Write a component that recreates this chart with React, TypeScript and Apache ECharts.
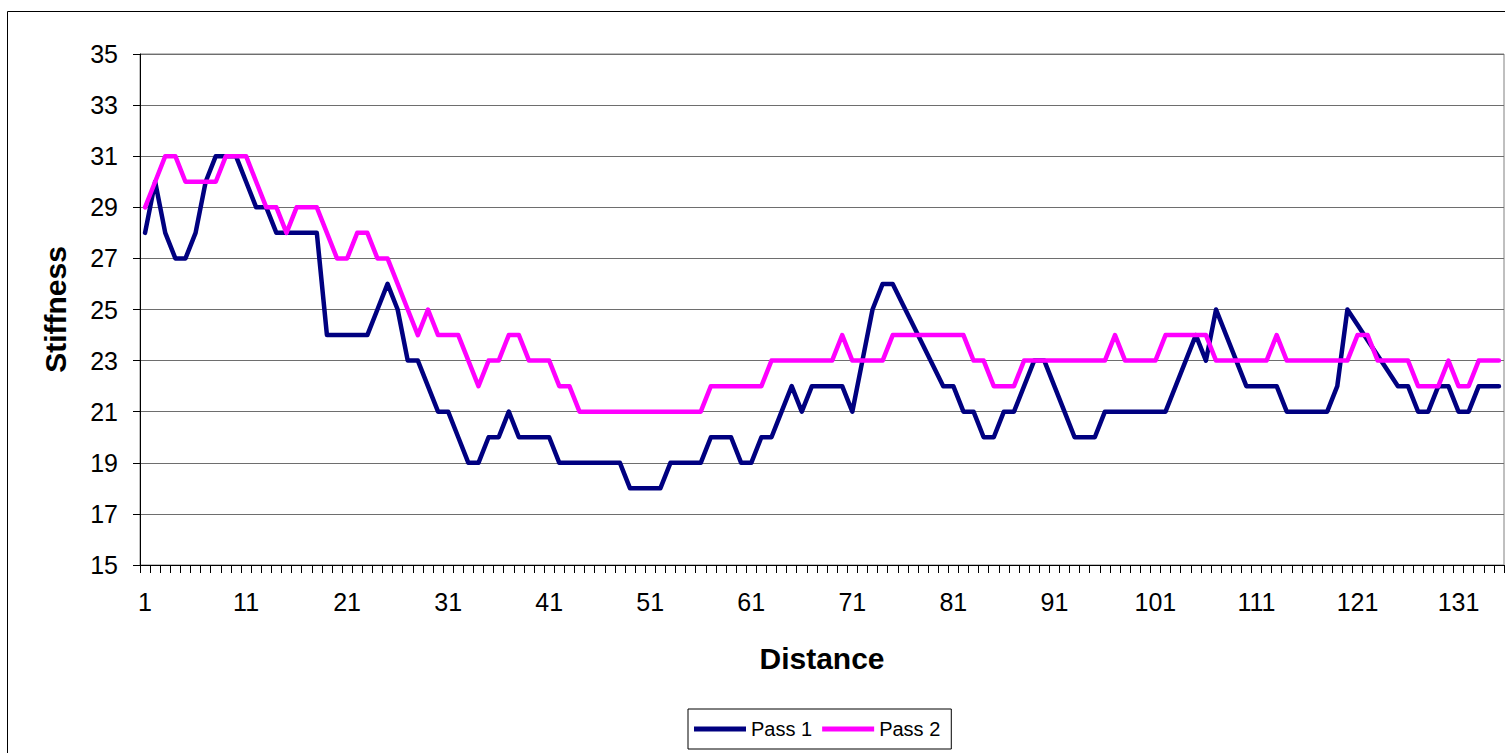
import React, { useEffect, useRef } from "react";
import * as echarts from "echarts";

const categories: string[] = Array.from({ length: 135 }, (_, i) => String(i + 1));

const pass1: number[] = [
  28, 30, 28, 27, 27, 28, 30, 31, 31, 31,
  30, 29, 29, 28, 28, 28, 28, 28, 24, 24,
  24, 24, 24, 25, 26, 25, 23, 23, 22, 21,
  21, 20, 19, 19, 20, 20, 21, 20, 20, 20,
  20, 19, 19, 19, 19, 19, 19, 19, 18, 18,
  18, 18, 19, 19, 19, 19, 20, 20, 20, 19,
  19, 20, 20, 21, 22, 21, 22, 22, 22, 22,
  21, 23, 25, 26, 26, 25.2, 24.4, 23.6, 22.8, 22,
  22, 21, 21, 20, 20, 21, 21, 22, 23, 23,
  22, 21, 20, 20, 20, 21, 21, 21, 21, 21,
  21, 21, 22, 23, 24, 23, 25, 24, 23, 22,
  22, 22, 22, 21, 21, 21, 21, 21, 22, 25,
  24.4, 23.8, 23.2, 22.6, 22, 22, 21, 21, 22, 22,
  21, 21, 22, 22, 22,
];

const pass2: number[] = [
  29, 30, 31, 31, 30, 30, 30, 30, 31, 31,
  31, 30, 29, 29, 28, 29, 29, 29, 28, 27,
  27, 28, 28, 27, 27, 26, 25, 24, 25, 24,
  24, 24, 23, 22, 23, 23, 24, 24, 23, 23,
  23, 22, 22, 21, 21, 21, 21, 21, 21, 21,
  21, 21, 21, 21, 21, 21, 22, 22, 22, 22,
  22, 22, 23, 23, 23, 23, 23, 23, 23, 24,
  23, 23, 23, 23, 24, 24, 24, 24, 24, 24,
  24, 24, 23, 23, 22, 22, 22, 23, 23, 23,
  23, 23, 23, 23, 23, 23, 24, 23, 23, 23,
  23, 24, 24, 24, 24, 24, 23, 23, 23, 23,
  23, 23, 24, 23, 23, 23, 23, 23, 23, 23,
  24, 24, 23, 23, 23, 23, 22, 22, 22, 23,
  22, 22, 23, 23, 23,
];

const seriesNames = ["Pass 1", "Pass 2"];
const seriesColors = ["#000080", "#FF00FF"];

export default function App() {
  const ref = useRef<HTMLDivElement>(null);
  useEffect(() => {
    if (!ref.current) return;
    const chart = echarts.init(ref.current, undefined, { renderer: "svg" });
    const font = "Arial, 'Liberation Sans', sans-serif";
    chart.setOption({
      animation: false,
      backgroundColor: "#ffffff",
      textStyle: { fontFamily: font },
      graphic: [
        {
          type: "rect",
          shape: { x: 7.5, y: 11.5, width: 1510, height: 760 },
          style: { fill: "none", stroke: "#000", lineWidth: 1 },
          silent: true,
        },
      ],
      grid: {
        left: 140,
        top: 54,
        right: 1,
        bottom: 188,
        show: true,
        borderColor: "#808080",
        borderWidth: 1,
        backgroundColor: "transparent",
      },
      legend: {
        data: seriesNames,
        left: 688,
        top: 709,
        orient: "horizontal",
        icon: "rect",
        itemWidth: 52,
        itemHeight: 5,
        itemGap: 10,
        padding: [10, 11, 10, 6],
        borderColor: "#000",
        borderWidth: 1,
        textStyle: { fontSize: 20, color: "#000", fontFamily: font },
      },
      xAxis: {
        type: "category",
        data: categories,
        boundaryGap: true,
        name: "Distance",
        nameLocation: "middle",
        nameGap: 78,
        nameTextStyle: { fontSize: 30, fontWeight: "bold", color: "#000", fontFamily: font },
        axisLine: { show: true, lineStyle: { color: "#000", width: 1 } },
        axisTick: { show: true, interval: 0, length: 8, lineStyle: { color: "#000" } },
        axisLabel: { interval: 9, margin: 24, fontSize: 25, color: "#000", fontFamily: font },
        splitLine: { show: false },
      },
      yAxis: {
        type: "value",
        min: 15,
        max: 35,
        interval: 2,
        name: "Stiffness",
        nameLocation: "middle",
        nameGap: 70,
        nameRotate: 90,
        nameTextStyle: { fontSize: 30, fontWeight: "bold", color: "#000", fontFamily: font },
        axisLine: { show: true, lineStyle: { color: "#000", width: 1 } },
        axisTick: { show: true, length: 7, lineStyle: { color: "#000" } },
        axisLabel: { margin: 22, fontSize: 25, color: "#000", fontFamily: font },
        splitLine: { show: true, lineStyle: { color: "#6e6e6e", width: 1 } },
      },
      series: [
        {
          name: seriesNames[0],
          type: "line",
          data: pass1,
          symbol: "none",
          showSymbol: false,
          color: seriesColors[0],
          lineStyle: { width: 4.5, color: seriesColors[0], cap: "round", join: "round" },
        },
        {
          name: seriesNames[1],
          type: "line",
          data: pass2,
          symbol: "none",
          showSymbol: false,
          color: seriesColors[1],
          lineStyle: { width: 4.5, color: seriesColors[1], cap: "round", join: "round" },
        },
      ],
    });
    return () => chart.dispose();
  }, []);
  return (
    <div
      ref={ref}
      style={{ position: "fixed", left: 0, top: 0, width: 1505, height: 753 }}
    />
  );
}
